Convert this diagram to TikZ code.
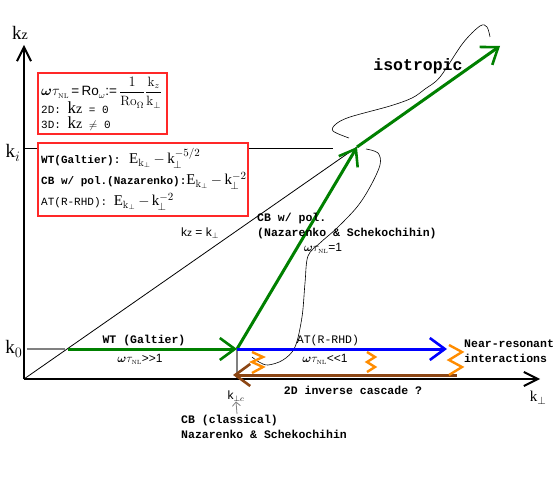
\documentclass[tikz,border=0pt]{standalone}
\usepackage{fontspec}
\usetikzlibrary{arrows.meta}
\newfontfamily\mono{Liberation Mono}
\newfontfamily\serif{Liberation Serif}
\newfontfamily\sans{Liberation Sans}
\definecolor{dgreen}{RGB}{0,128,0}
\definecolor{myblue}{RGB}{0,0,255}
\definecolor{mybrown}{RGB}{140,70,20}
\definecolor{myorange}{RGB}{255,140,0}
\definecolor{myred}{RGB}{255,40,40}
\newcommand{\wtau}{{\boldmath$\omega$}$\tau_{\scriptscriptstyle\mathrm{NL}}$}
\newcommand{\Ek}[1]{{\mdseries\serif\fontsize{15}{15}\selectfont E$_{\mathrm{k}_\perp}$\,$-$\,k$^{#1}_{\!\perp}$}}
\newcommand{\kzbig}{{\serif\fontsize{17}{17}\selectfont k{\fontsize{14}{14}\selectfont z}}}
\begin{document}
\begin{tikzpicture}[x=1pt,y=-1pt,
  lbl/.style={font=\mono\bfseries\fontsize{11.5}{15}\selectfont, inner sep=0pt},
  lblr/.style={font=\mono\fontsize{11.5}{15}\selectfont, inner sep=0pt},
  mth/.style={font=\sans\fontsize{12}{14}\selectfont, inner sep=0pt},
  axlbl/.style={font=\serif\fontsize{19}{19}\selectfont, inner sep=0pt},
  boxtxt/.style={anchor=base west, inner sep=0pt},
  axisline/.style={line width=2.4pt, -{Straight Barb[length=14pt,width=14pt,line width=2pt]}},
  bigarrow/.style={line width=3pt, -{Straight Barb[length=15pt,width=22pt,line width=2.6pt]}},
  zz/.style={myorange, line width=2.4pt, line join=miter},
  thinline/.style={line width=0.8pt},
  redbox/.style={draw=myred, line width=1.6pt, fill=white, anchor=north west, inner sep=0pt, outer sep=0pt}
]
\useasboundingbox (0,0) rectangle (556,486);
% coordinates
\coordinate (O) at (24,379);
\coordinate (Ytop) at (24,45);
\coordinate (Xend) at (540,379);
\coordinate (J) at (237,349);
\coordinate (M) at (357,147);
\coordinate (Iso) at (500,46);
\coordinate (K0a) at (27,349);
\coordinate (K0b) at (65,349);
\coordinate (G0) at (68,349);
\coordinate (Ki0) at (24,148);
\coordinate (Ki1) at (333,148);
\coordinate (Bend) at (447,349);
\coordinate (Br0) at (457,375);
\coordinate (Br1) at (233,375);
\coordinate (Jb) at (237,378);
\coordinate (Kc0) at (237,414);

% thin guide lines
\draw[thinline] (Ki0) -- (Ki1);
\draw[thinline] (O) -- (M);
\draw[gray, line width=1.2pt] (K0a) -- (K0b);
\draw[gray, line width=1.2pt] (J) -- (Jb);

% curved connectors
\draw[line width=0.6pt] plot[smooth, tension=0.55] coordinates {(349,138) (333,131) (336,124) (350,117) (390,106) (412,98) (425,89) (440,77) (463,43) (480,26) (487,27) (490,37)};
\draw[line width=0.6pt] plot[smooth, tension=0.55] coordinates {(366,149) (378,153) (380,165) (370,187) (357,207) (337,228) (320,243) (308,256) (305,283) (302,317) (295,347) (283,360) (268,365) (259,362) (252,357)};

% axes
\draw[axisline] (O) -- (Ytop);
\draw[axisline] (O) -- (Xend);

% box 1
\node[redbox, minimum width=129pt, minimum height=61pt] (box1) at (38,73) {};
\node[boxtxt, font=\sans\fontsize{13.5}{15}\selectfont] (b1a) at (41,96)
  {\wtau\,=\,Ro$_\omega$:=\,$\displaystyle\frac{1}{\mathrm{Ro}_{\Omega}}\frac{\mathrm{k}_z}{\mathrm{k}_\perp}$};
\node[boxtxt] (b1b) at (41,114) {{\mono\fontsize{11}{11}\selectfont 2D: }\kzbig{\mono\fontsize{11}{11}\selectfont{} = 0}};
\node[boxtxt] (b1c) at (41,129) {{\mono\fontsize{11}{11}\selectfont 3D: }\kzbig{\mono\fontsize{11}{11}\selectfont{} $\neq$ 0}};

% box 2
\node[redbox, minimum width=210pt, minimum height=73pt] (box2) at (38,143) {};
\node[boxtxt] (b2a) at (41,164) {{\mono\bfseries\fontsize{11}{11}\selectfont WT(Galtier): }\Ek{-5/2}};
\node[boxtxt] (b2b) at (41,185) {{\mono\bfseries\fontsize{11}{11}\selectfont CB w/ pol.(Nazarenko):}\Ek{-2}};
\node[boxtxt] (b2c) at (41,206) {{\mono\fontsize{11}{11}\selectfont AT(R-RHD): }\Ek{-2}};

% brown arrow
\draw[bigarrow, mybrown] (Br0) -- (Br1);
% green arrows
\draw[bigarrow, dgreen] (G0) -- (J);
\draw[bigarrow, dgreen] (J) -- (M);
\draw[bigarrow, dgreen] (M) -- (Iso);
% blue arrow
\draw[bigarrow, myblue] (J) -- (Bend);

% orange zigzags
\draw[zz] (252,352) -- (263,357) -- (252,362) -- (263,367) -- (252,373);
\draw[zz] (367,352) -- (375,357) -- (367,362) -- (375,367) -- (367,372);
\draw[zz] (449,345) -- (462,352) -- (449,360) -- (462,367) -- (449,375);

% axis labels
\node[axlbl] (kz) at (20,33) {k{\fontsize{14}{14}\selectfont z}};
\node[axlbl] (kzero) at (14,349) {k$_0$};
\node[axlbl] (ki) at (13,153) {k$_i$};
\node[font=\serif\fontsize{15}{15}\selectfont, inner sep=0pt] (kperp) at (538,398) {k$_\perp$};

% labels
\node[font=\mono\bfseries\fontsize{16.5}{17}\selectfont, inner sep=0pt] (iso) at (418,66) {isotropic};
\node[lbl, align=left, anchor=north west] (cbpol) at (257,213) {CB w/ pol.\\(Nazarenko \& Schekochihin)};
\node[mth] (wt1) at (323,248) {\wtau=1};
\node[mth] (kzk) at (200,233) {k{\fontsize{10}{10}\selectfont z} = k$_\perp$};
\node[lbl] (wt) at (144,341) {WT (Galtier)};
\node[mth] (wtr) at (140,359) {\wtau>>1};
\node[lblr] (at) at (328,341) {AT(R-RHD)};
\node[mth] (atr) at (325,359) {\wtau<<1};
\node[lbl, align=left, anchor=north west] (nr) at (464,340) {Near-resonant\\interactions};
\node[lbl] (inv) at (353,390) {2D inverse cascade ?};
\node[mth] (kpc) at (236,396) {k$_{\perp c}$};
\draw[gray, line width=0.8pt, -{Straight Barb[length=4pt,width=8pt]}] (Kc0) -- (kpc.south);
\node[lbl, align=left, anchor=north west] (cb) at (181,415) {CB (classical)\\Nazarenko \& Schekochihin};
\end{tikzpicture}
\end{document}
